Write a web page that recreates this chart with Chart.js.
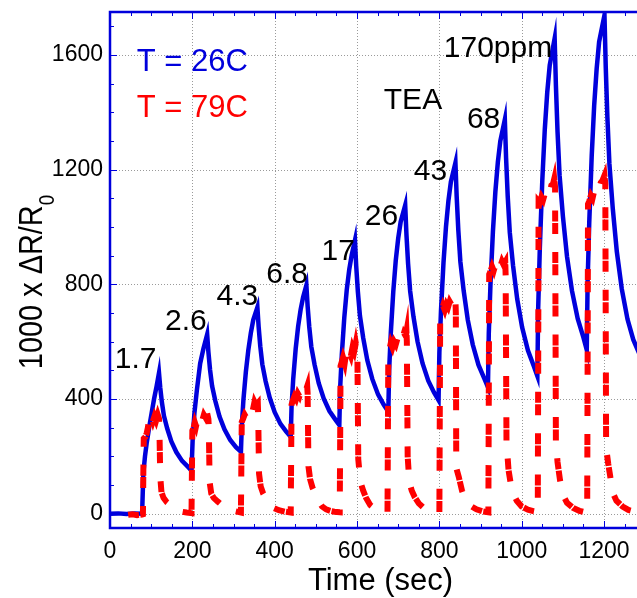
<!DOCTYPE html>
<html>
<head>
<meta charset="utf-8">
<script src="https://cdn.jsdelivr.net/npm/chart.js@4.4.0/dist/chart.umd.min.js"></script>
<style>
  body { margin: 0; background: #fff; }
  #wrap { width: 637px; height: 598px; position: relative; }
</style>
</head>
<body>
<div id="wrap"><canvas id="myChart"></canvas></div>
<script>
// T = 26C response (time in s, 1000 x dR/R0)
const blueTime = [
  0, 20, 40, 60, 78,
  81, 85, 89, 95, 101, 107, 113, 119, 122, 126, 131, 139, 149, 161, 175, 189, 198,
  201, 205, 211, 219, 227, 236, 239, 243, 248, 256, 266, 278, 292, 306, 318,
  320, 324, 330, 336, 342, 348, 358, 361, 365, 370, 378, 388, 400, 414, 428, 439,
  441, 445, 451, 457, 463, 469, 477, 480, 484, 489, 497, 507, 519, 533, 547, 557,
  559, 563, 569, 575, 581, 587, 595, 598, 602, 607, 615, 625, 637, 651, 665, 676,
  678, 682, 688, 694, 700, 706, 717, 720, 724, 729, 737, 747, 759, 773, 787, 798,
  800, 804, 810, 816, 822, 828, 839, 842, 846, 851, 859, 869, 881, 895, 909, 918,
  920, 924, 930, 936, 942, 948, 959, 962, 966, 971, 979, 989, 1001, 1015, 1029, 1038,
  1040, 1044, 1050, 1056, 1062, 1068, 1080, 1083, 1087, 1092, 1100, 1110, 1122, 1136, 1150, 1158,
  1160, 1164, 1170, 1176, 1182, 1188, 1201, 1204, 1208, 1213, 1221, 1231, 1243, 1257, 1271, 1285
];
const blueVal = [
  0, 1, -1, 1, 0,
  141, 200, 245, 300, 350, 400, 443, 491, 440, 389, 341, 297, 252, 215, 184, 164, 150,
  268, 350, 431, 524, 576, 625, 564, 502, 445, 392, 339, 294, 257, 232, 216,
  303, 396, 495, 571, 630, 676, 720, 652, 584, 521, 462, 404, 354, 313, 286, 268,
  374, 469, 575, 654, 712, 755, 797, 724, 651, 582, 519, 455, 402, 358, 329, 309,
  438, 554, 683, 780, 851, 902, 954, 864, 775, 691, 613, 535, 470, 416, 380, 356,
  500, 630, 774, 882, 961, 1018, 1076, 974, 872, 777, 688, 600, 525, 464, 423, 396,
  562, 711, 876, 1000, 1092, 1158, 1224, 1107, 989, 879, 778, 676, 590, 519, 472, 441,
  628, 796, 983, 1123, 1226, 1300, 1375, 1241, 1107, 981, 865, 749, 650, 570, 516, 480,
  716, 928, 1163, 1340, 1470, 1564, 1658, 1495, 1332, 1180, 1038, 897, 778, 680, 614, 571,
  805, 1015, 1248, 1424, 1552, 1646, 1739, 1562, 1385, 1220, 1067, 914, 784, 678, 607, 560
];

// T = 79C response
const redTime = [
  44, 55, 66, 78, 80,
  81, 82, 86, 89, 92, 95, 98, 101, 104, 108, 112, 116, 119, 120, 122, 125, 130, 138, 148, 158, 166, 174, 186, 198,
  199, 200, 203, 206, 209, 212, 216, 220, 224, 228, 232, 236, 239, 240, 242, 246, 252, 262, 272, 282, 291, 305, 318,
  319, 320, 323, 327, 331, 335, 339, 343, 347, 351, 355, 359, 360, 362, 366, 372, 380, 390, 397, 410, 425, 439,
  440, 441, 444, 448, 452, 456, 460, 464, 468, 472, 476, 479, 480, 482, 486, 492, 498, 506, 515, 525, 535, 545, 558,
  559, 560, 563, 566, 570, 573, 577, 581, 585, 589, 593, 597, 600, 601, 603, 608, 615, 622, 632, 645, 660, 674,
  675, 676, 679, 682, 686, 690, 694, 698, 702, 706, 710, 714, 718, 720, 721, 723, 727, 733, 740, 750, 762, 777, 792, 800,
  801, 802, 805, 809, 813, 817, 821, 825, 829, 833, 836, 839, 840, 841, 847, 855, 863, 875, 890, 905, 919,
  920, 921, 924, 928, 932, 936, 940, 944, 948, 952, 956, 960, 961, 963, 968, 976, 988, 1000, 1015, 1028, 1039,
  1040, 1041, 1044, 1048, 1052, 1056, 1060, 1064, 1068, 1072, 1076, 1079, 1081, 1083, 1087, 1093, 1100, 1110, 1125, 1140, 1154, 1159,
  1160, 1161, 1164, 1168, 1172, 1176, 1180, 1184, 1188, 1192, 1196, 1201, 1203, 1205, 1210, 1215, 1219, 1230, 1245, 1259, 1272, 1285
];
const redVal = [
  -4, -2, -5, -3, -2,
  150, 262, 268, 280, 300, 330, 318, 335, 322, 340, 325, 345, 332, 300, 130, 75, 55, 40, 28, 18, 12, 7, 4, 2,
  150, 290, 300, 318, 305, 325, 315, 335, 325, 345, 335, 350, 330, 300, 110, 70, 55, 42, 30, 22, 16, 8, 4,
  160, 320, 330, 345, 335, 355, 350, 370, 362, 390, 378, 385, 340, 140, 95, 70, 50, 32, 20, 12, 7, 4,
  200, 380, 395, 410, 400, 420, 410, 430, 422, 440, 432, 445, 420, 165, 120, 90, 72, 45, 25, 15, 10, 7, 5,
  250, 515, 530, 545, 525, 555, 540, 565, 550, 580, 565, 595, 570, 540, 190, 112, 80, 55, 30, 15, 8, 5,
  280, 560, 575, 595, 580, 600, 590, 610, 600, 620, 610, 630, 620, 636, 600, 200, 110, 80, 58, 36, 20, 10, 6, 5,
  350, 700, 705, 725, 710, 730, 720, 740, 730, 750, 738, 748, 700, 160, 129, 80, 48, 28, 15, 8, 5,
  400, 835, 845, 862, 848, 868, 855, 872, 862, 880, 868, 878, 830, 250, 152, 80, 45, 25, 14, 9, 6,
  500, 1090, 1085, 1105, 1095, 1115, 1108, 1128, 1120, 1145, 1150, 1168, 1140, 250, 180, 117, 65, 38, 20, 10, 5, 4,
  500, 1080, 1090, 1110, 1100, 1125, 1118, 1140, 1135, 1155, 1162, 1180, 1150, 230, 175, 130, 80, 45, 25, 13, 8, 5
];

const xTicks = [0, 200, 400, 600, 800, 1000, 1200];
const yTicks = [0, 400, 800, 1200, 1600];
const concLabels = ['1.7', '2.6', '4.3', '6.8', '17', '26', '43', '68', '170ppm'];

const FONT = '"Liberation Sans", Arial, Helvetica, sans-serif';
const BLUE = 'rgb(0,0,220)';
const RED = 'rgb(255,0,0)';

const toPoints = (xs, ys) => xs.map((t, i) => ({ x: t, y: ys[i] }));

// anchors (data units) for the right edge / baseline of the concentration labels
const concAnchors = [[113, 508], [235, 640], [360, 728], [481, 804], [595, 885], [700, 1007], [819, 1163], [948, 1344], [1074, 1593]];

const framePlugin = {
  id: 'frame',
  beforeDatasetsDraw(chart) {
    const { ctx, chartArea: a, scales: { x, y } } = chart;
    ctx.save();
    ctx.strokeStyle = '#9a9a9a';
    ctx.lineWidth = 1;
    ctx.setLineDash([1, 2]);
    xTicks.forEach(v => {
      const px = Math.round(x.getPixelForValue(v)) + 0.5;
      ctx.beginPath(); ctx.moveTo(px, a.top); ctx.lineTo(px, a.bottom); ctx.stroke();
    });
    yTicks.forEach(v => {
      const py = Math.round(y.getPixelForValue(v)) + 0.5;
      ctx.beginPath(); ctx.moveTo(a.left, py); ctx.lineTo(a.right, py); ctx.stroke();
    });
    ctx.restore();
  },
  afterDatasetsDraw(chart) {
    const { ctx, chartArea: a, scales: { x, y } } = chart;
    ctx.save();
    ctx.strokeStyle = BLUE;
    // minor / major tick marks, pointing inwards
    ctx.lineWidth = 1;
    for (let v = 0; v <= 1280; v += 50) {
      const px = Math.round(x.getPixelForValue(v)) + 0.5;
      const len = v % 200 === 0 ? 7 : 4;
      ctx.beginPath();
      ctx.moveTo(px, a.bottom); ctx.lineTo(px, a.bottom - len);
      ctx.moveTo(px, a.top); ctx.lineTo(px, a.top + len);
      ctx.stroke();
    }
    for (let v = 0; v <= 1700; v += 100) {
      const py = Math.round(y.getPixelForValue(v)) + 0.5;
      const len = v % 400 === 0 ? 7 : 4;
      ctx.beginPath(); ctx.moveTo(a.left, py); ctx.lineTo(a.left + len, py); ctx.stroke();
    }
    // axes box (right side falls outside the picture)
    ctx.lineWidth = 2.5;
    ctx.beginPath();
    ctx.moveTo(a.right + 2, a.top);
    ctx.lineTo(a.left, a.top);
    ctx.lineTo(a.left, a.bottom);
    ctx.lineTo(a.right + 2, a.bottom);
    ctx.stroke();
    ctx.restore();
  },
  afterDraw(chart) {
    const { ctx, chartArea: a, scales: { x, y } } = chart;
    ctx.save();
    ctx.textBaseline = 'alphabetic';
    ctx.font = '30px ' + FONT;
    ctx.fillStyle = '#000';
    ctx.textAlign = 'right';
    concLabels.forEach((txt, i) => {
      const [tx, ty] = concAnchors[i];
      ctx.fillText(txt, x.getPixelForValue(tx), y.getPixelForValue(ty));
    });
    ctx.textAlign = 'left';
    ctx.fillText('TEA', x.getPixelForValue(665), y.getPixelForValue(1410));
    ctx.font = '31px ' + FONT;
    ctx.fillStyle = BLUE;
    ctx.fillText('T = 26C', x.getPixelForValue(65), y.getPixelForValue(1545));
    ctx.fillStyle = RED;
    ctx.fillText('T = 79C', x.getPixelForValue(65), y.getPixelForValue(1382));

    // x axis title
    ctx.fillStyle = '#000';
    ctx.textAlign = 'center';
    ctx.font = '31px ' + FONT;
    ctx.fillText('Time (sec)', (a.left + a.right) / 2 + 7, a.bottom + 62);

    // y axis title with subscript
    ctx.translate(42, (a.top + a.bottom) / 2 + 12);
    ctx.rotate(-Math.PI / 2);
    ctx.scale(0.85, 1);
    ctx.font = '34px ' + FONT;
    const main = '1000 x \u0394R/R';
    const w = ctx.measureText(main).width;
    ctx.font = '22px ' + FONT;
    const ws = ctx.measureText('0').width;
    const start = -(w + ws) / 2;
    ctx.textAlign = 'left';
    ctx.font = '34px ' + FONT;
    ctx.fillText(main, start, 0);
    ctx.font = '22px ' + FONT;
    ctx.fillText('0', start + w, 12);
    ctx.restore();
  }
};

const plain = v => String(v);

const ctx = document.getElementById('myChart').getContext('2d');
const myChart = new Chart(ctx, {
  type: 'line',
  data: {
    datasets: [
      {
        label: 'T = 79C',
        data: toPoints(redTime, redVal),
        borderColor: RED,
        borderWidth: 6,
        borderDash: [11, 1.3, 11, 18],
        pointRadius: 0,
        tension: 0,
        order: 0
      },
      {
        label: 'T = 26C',
        data: toPoints(blueTime, blueVal),
        borderColor: BLUE,
        borderWidth: 4.5,
        pointRadius: 0,
        tension: 0,
        order: 1
      }
    ]
  },
  options: {
    responsive: true,
    maintainAspectRatio: false,
    animation: false,
    layout: { padding: { top: 12, right: 0, left: 0, bottom: 0 } },
    plugins: { legend: { display: false }, tooltip: { enabled: false } },
    scales: {
      x: {
        type: 'linear',
        min: 0,
        max: 1280,
        grid: { display: false, drawTicks: false },
        border: { display: false },
        ticks: { color: '#000', font: { family: FONT, size: 23 }, padding: 10, maxRotation: 0, autoSkip: false, callback: plain },
        afterBuildTicks: ax => { ax.ticks = xTicks.map(v => ({ value: v })); },
        afterFit: ax => { ax.height = 70; ax.paddingLeft = 0; ax.paddingRight = 0; }
      },
      y: {
        min: -50,
        max: 1750,
        grid: { display: false, drawTicks: false },
        border: { display: false },
        ticks: { color: '#000', font: { family: FONT, size: 23 }, padding: 7, autoSkip: false, callback: plain },
        afterBuildTicks: ax => { ax.ticks = yTicks.map(v => ({ value: v })); },
        afterFit: ax => { ax.width = 110; ax.paddingTop = 0; ax.paddingBottom = 0; }
      }
    }
  },
  plugins: [framePlugin]
});
</script>
</body>
</html>
